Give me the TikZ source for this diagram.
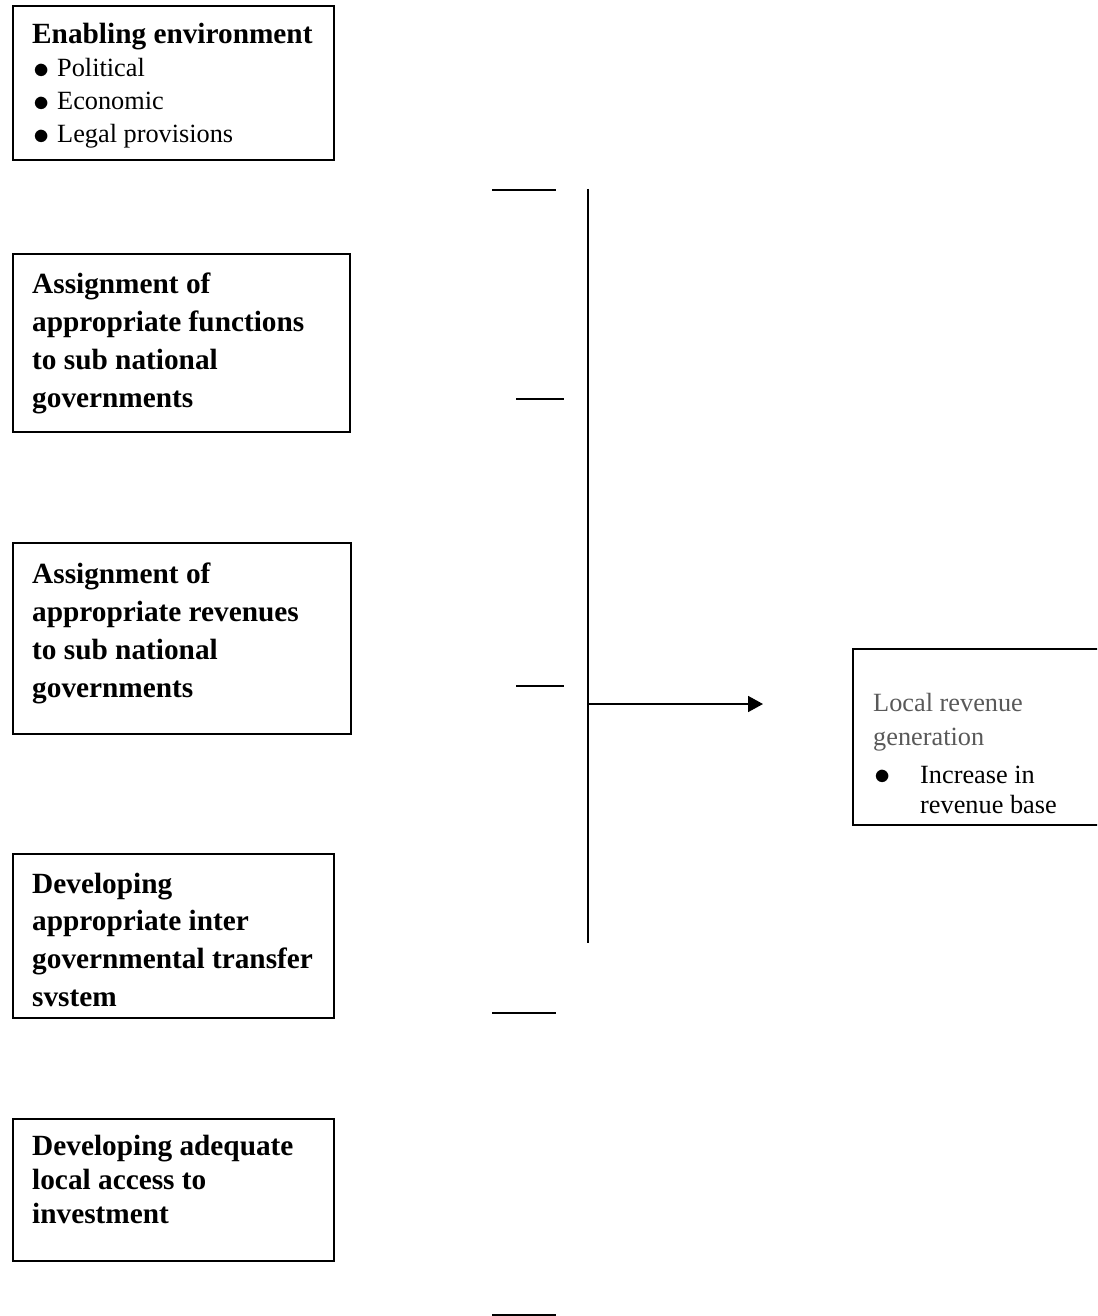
\documentclass[tikz,border=0pt]{standalone}
\usepackage{graphicx}
\usepackage{fontspec}
\setmainfont{Liberation Serif}
\usetikzlibrary{arrows.meta}
\definecolor{txtgray}{RGB}{89,89,89}
\newcommand{\txtblock}[2]{\parbox[t]{#1}{\raggedright #2}}
\newcommand{\bul}[1]{\makebox[#1][l]{\raisebox{-0.05em}{\scalebox{1.3}{$\bullet$}}}}
\tikzset{
  boxframe/.style={draw, line width=1.8pt, rectangle, inner sep=0pt, anchor=north west},
  boldtext/.style={anchor=base west, inner sep=0pt, font=\fontsize{29.3}{38}\selectfont\bfseries},
  plaintext/.style={anchor=base west, inner sep=0pt, font=\fontsize{26.3}{33}\selectfont},
  stub/.style={line width=1.8pt},
  trunk/.style={line width=1.8pt},
}
\begin{document}
\begin{tikzpicture}[x=1pt,y=-1pt]
\useasboundingbox (0,0) rectangle (1097,1316);
\clip (0,0) rectangle (1097,1316);

% boxes
\node[boxframe, minimum width=321pt, minimum height=154pt] (b1) at (12,5) {};
\node[boxframe, minimum width=337pt, minimum height=178pt] (b2) at (12,253) {};
\node[boxframe, minimum width=338pt, minimum height=191pt] (b3) at (12,542) {};
\node[boxframe, minimum width=321pt, minimum height=164pt] (b4) at (12,853) {};
\node[boxframe, minimum width=321pt, minimum height=142pt] (b5) at (12,1118) {};
\node[boxframe, minimum width=260pt, minimum height=176pt] (b6) at (852,648) {};

% texts
\node[plaintext] (t1) at (32,44) {\txtblock{300pt}{{\fontsize{29.3}{33}\selectfont\bfseries Enabling environment}\\
  \hspace*{1pt}\bul{24pt}Political\\\hspace*{1pt}\bul{24pt}Economic\\\hspace*{1pt}\bul{24pt}Legal provisions}};
\node[boldtext] (t2) at (32,293) {\txtblock{320pt}{Assignment of\\appropriate functions\\to sub national\\governments}};
\node[boldtext] (t3) at (32,583) {\txtblock{320pt}{Assignment of\\appropriate revenues\\to sub national\\governments}};
\node[boldtext, font=\fontsize{29.3}{37.8}\selectfont\bfseries] (t4) at (32,893) {\txtblock{320pt}{Developing\\appropriate inter\\governmental transfer\\svstem}};
\node[boldtext, font=\fontsize{29.3}{34}\selectfont\bfseries] (t5) at (32,1155) {\txtblock{320pt}{Developing adequate\\local access to\\investment}};
\node[plaintext, text=txtgray, font=\fontsize{26.3}{34}\selectfont] (t6) at (873,711) {\txtblock{220pt}{Local revenue\\generation}};
\node[plaintext, font=\fontsize{26.3}{30}\selectfont] (t6list) at (874,783) {\txtblock{220pt}{\bul{46pt}Increase in\\\hspace*{46pt}revenue base}};

% stubs
\draw[stub] (492,190) -- (556,190);
\draw[stub] (516,399) -- (564,399);
\draw[stub] (516,686) -- (564,686);
\draw[stub] (492,1013) -- (556,1013);
\draw[stub] (492,1315) -- (556,1315);

% trunk and arrow
\coordinate (trunktop) at (588,189);
\coordinate (trunkbot) at (588,943);
\coordinate (junction) at (588,704);
\coordinate (tip) at (763,704);
\draw[trunk] (trunktop) -- (trunkbot);
\draw[trunk, -{Triangle[length=15pt,width=16pt]}] (junction) -- (tip);
\end{tikzpicture}
\end{document}
